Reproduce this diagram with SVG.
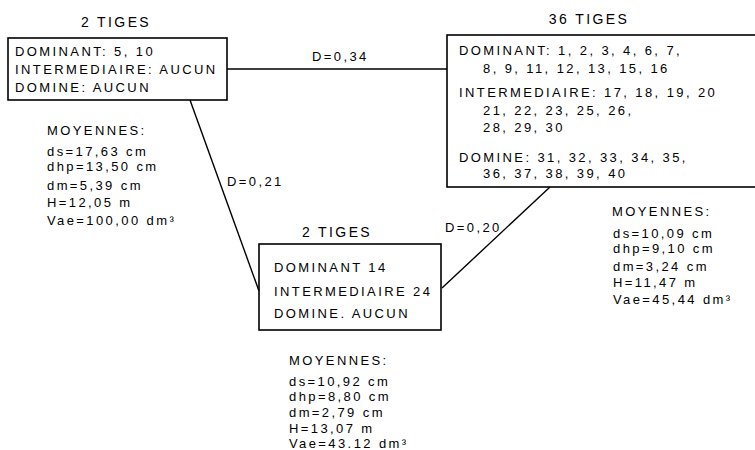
<svg xmlns="http://www.w3.org/2000/svg" width="755" height="450" viewBox="0 0 755 450">
<style>
text{font-family:"Liberation Sans",Arial,sans-serif;font-size:13px;letter-spacing:2.4px;fill:#000}
.t{font-size:14px;text-anchor:middle}
.box{fill:none;stroke:#000;stroke-width:1.6}
.c{stroke:#000;stroke-width:1.4;fill:none}
</style>
<rect width="755" height="450" fill="#fff"/>
<g id="connectors">
<line class="c" x1="227" y1="69" x2="447" y2="69"/>
<line class="c" x1="190" y1="100" x2="259" y2="291"/>
<line class="c" x1="550" y1="187" x2="442" y2="288"/>
<text x="312" y="61">D=0,34</text>
<text x="227" y="186">D=0,21</text>
<text x="445" y="232">D=0,20</text>
</g>
<g id="node1">
<text class="t" x="116" y="27">2 TIGES</text>
<rect class="box" x="8" y="38" width="219" height="62"/>
<text x="15" y="56">DOMINANT: 5, 10</text>
<text x="15" y="74">INTERMEDIAIRE: AUCUN</text>
<text x="15" y="92">DOMINE: AUCUN</text>
<g id="stats1">
<text x="47" y="135">MOYENNES:</text>
<text x="47" y="156">ds=17,63 cm</text>
<text x="47" y="171">dhp=13,50 cm</text>
<text x="47" y="190">dm=5,39 cm</text>
<text x="47" y="207">H=12,05 m</text>
<text x="47" y="225">Vae=100,00 dm³</text>
</g>
</g>
<g id="node3">
<text class="t" x="589" y="24">36 TIGES</text>
<rect class="box" x="447" y="35" width="320" height="152"/>
<text x="459" y="55">DOMINANT: 1, 2, 3, 4, 6, 7,</text>
<text x="483" y="73">8, 9, 11, 12, 13, 15, 16</text>
<text x="459" y="97">INTERMEDIAIRE: 17, 18, 19, 20</text>
<text x="483" y="115">21, 22, 23, 25, 26,</text>
<text x="483" y="132">28, 29, 30</text>
<text x="459" y="162">DOMINE: 31, 32, 33, 34, 35,</text>
<text x="483" y="178">36, 37, 38, 39, 40</text>
<g id="stats3">
<text x="612" y="216">MOYENNES:</text>
<text x="613" y="238">ds=10,09 cm</text>
<text x="613" y="253">dhp=9,10 cm</text>
<text x="613" y="271">dm=3,24 cm</text>
<text x="613" y="287">H=11,47 m</text>
<text x="613" y="304">Vae=45,44 dm³</text>
</g>
</g>
<g id="node2">
<text class="t" x="337" y="237">2 TIGES</text>
<rect class="box" x="259" y="244" width="182" height="86"/>
<text x="274" y="272">DOMINANT 14</text>
<text x="274" y="296">INTERMEDIAIRE 24</text>
<text x="274" y="318">DOMINE. AUCUN</text>
<g id="stats2">
<text x="289" y="365">MOYENNES:</text>
<text x="289" y="386">ds=10,92 cm</text>
<text x="289" y="401">dhp=8,80 cm</text>
<text x="289" y="417">dm=2,79 cm</text>
<text x="289" y="433">H=13,07 m</text>
<text x="289" y="448">Vae=43.12 dm³</text>
</g>
</g>
</svg>
